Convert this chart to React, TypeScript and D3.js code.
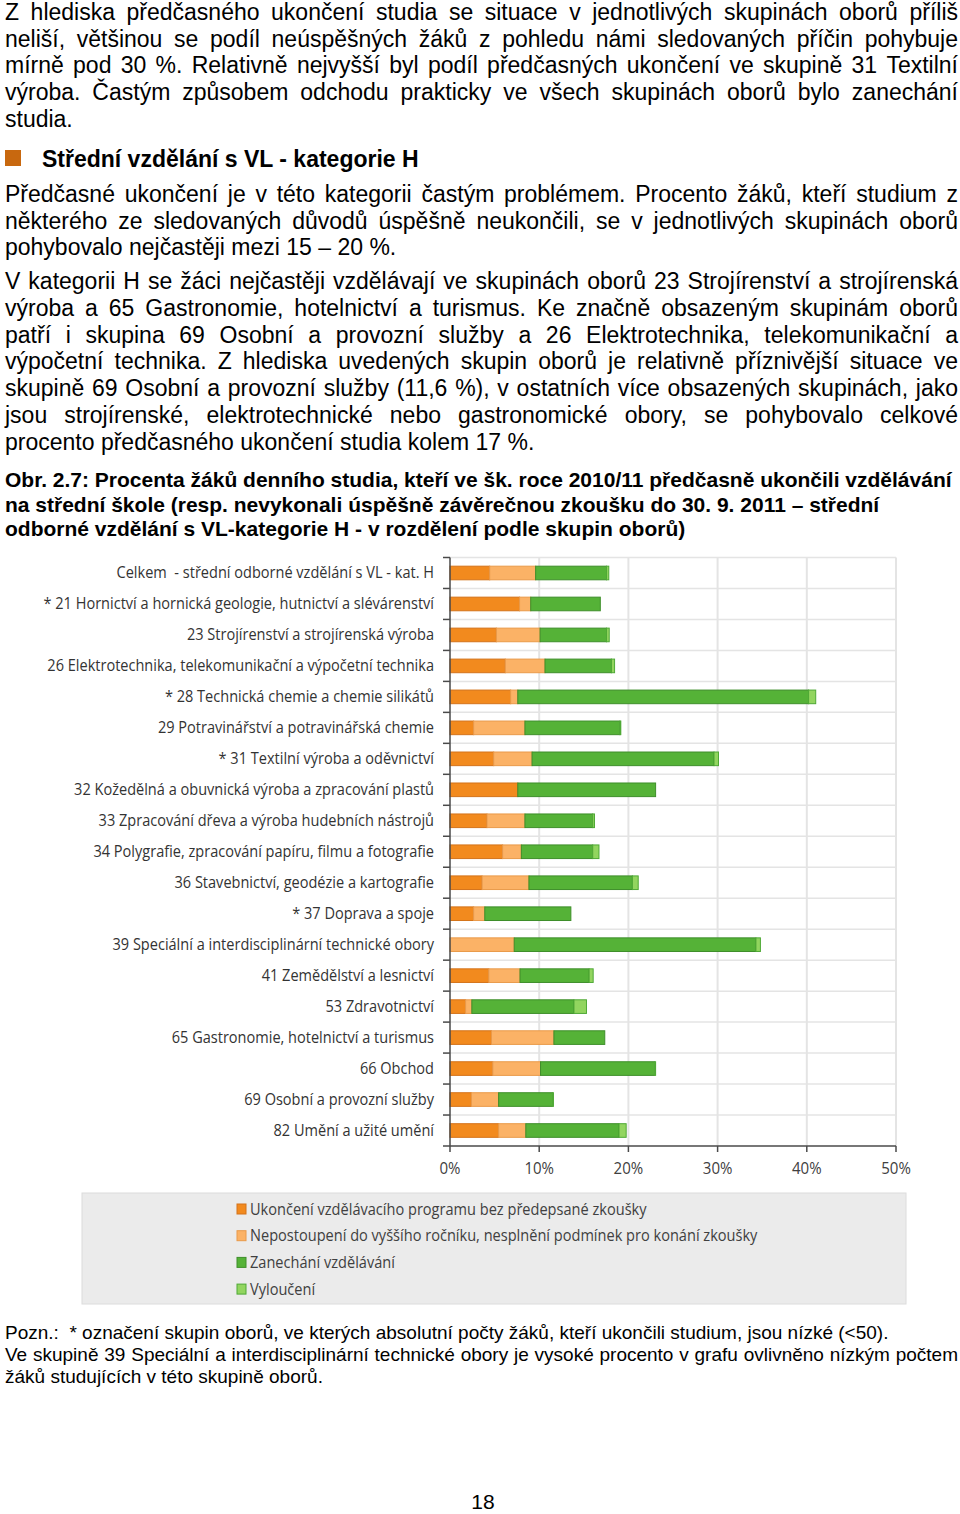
import React from 'react';
import * as d3 from 'd3';

// ---------------- DATA ----------------
const categories = [
  'Celkem  - střední odborné vzdělání s VL - kat. H',
  '* 21 Hornictví a hornická geologie, hutnictví a slévárenství',
  '23 Strojírenství a strojírenská výroba',
  '26 Elektrotechnika, telekomunikační a výpočetní technika',
  '* 28 Technická chemie a chemie silikátů',
  '29 Potravinářství a potravinářská chemie',
  '* 31 Textilní výroba a oděvnictví',
  '32 Kožedělná a obuvnická výroba a zpracování plastů',
  '33 Zpracování dřeva a výroba hudebních nástrojů',
  '34 Polygrafie, zpracování papíru, filmu a fotografie',
  '36 Stavebnictví, geodézie a kartografie',
  '* 37 Doprava a spoje',
  '39 Speciální a interdisciplinární technické obory',
  '41 Zemědělství a lesnictví',
  '53 Zdravotnictví',
  '65 Gastronomie, hotelnictví a turismus',
  '66 Obchod',
  '69 Osobní a provozní služby',
  '82 Umění a užité umění',
];
// values in percent
const ukonceni = [4.45, 7.8, 5.2, 6.2, 6.8, 2.65, 4.9, 7.6, 4.15, 5.9, 3.6, 2.65, 0, 4.35, 1.75, 4.65, 4.8, 2.4, 5.45];
const nepostoupeni = [5.15, 1.25, 4.9, 4.45, 0.8, 5.75, 4.3, 0, 4.25, 2.1, 5.25, 1.25, 7.2, 3.5, 0.7, 7.0, 5.35, 3.05, 3.05];
const zanechani = [7.95, 7.8, 7.45, 7.45, 32.6, 10.65, 20.4, 15.45, 7.6, 8.0, 11.6, 9.65, 27.1, 7.75, 11.45, 5.7, 12.8, 6.05, 10.45];
const vylouceni = [0.25, 0, 0.3, 0.35, 0.8, 0.1, 0.5, 0, 0.2, 0.7, 0.65, 0, 0.5, 0.45, 1.4, 0, 0.1, 0.1, 0.8];
const seriesNames = [
  'Ukončení vzdělávacího programu bez předepsané zkoušky',
  'Nepostoupení do vyššího ročníku, nesplnění podmínek pro konání zkoušky',
  'Zanechání vzdělávání',
  'Vyloučení',
];
const xTicks = [0, 10, 20, 30, 40, 50];

const para1 = [
  'Z hlediska předčasného ukončení studia se situace v jednotlivých skupinách oborů příliš',
  'neliší, většinou se podíl neúspěšných žáků z pohledu námi sledovaných příčin pohybuje',
  'mírně pod 30 %. Relativně nejvyšší byl podíl předčasných ukončení ve skupině 31 Textilní',
  'výroba. Častým způsobem odchodu prakticky ve všech skupinách oborů bylo zanechání',
  'studia.',
];
const heading = 'Střední vzdělání s VL - kategorie H';
const para2 = [
  'Předčasné ukončení je v této kategorii častým problémem. Procento žáků, kteří studium z',
  'některého ze sledovaných důvodů úspěšně neukončili, se v jednotlivých skupinách oborů',
  'pohybovalo nejčastěji mezi 15 – 20 %.',
];
const para3 = [
  'V kategorii H se žáci nejčastěji vzdělávají ve skupinách oborů 23 Strojírenství a strojírenská',
  'výroba a 65 Gastronomie, hotelnictví a turismus. Ke značně obsazeným skupinám oborů',
  'patří i skupina 69 Osobní a provozní služby a 26 Elektrotechnika, telekomunikační a',
  'výpočetní technika. Z hlediska uvedených skupin oborů je relativně příznivější situace ve',
  'skupině 69 Osobní a provozní služby (11,6 %), v ostatních více obsazených skupinách, jako',
  'jsou strojírenské, elektrotechnické nebo gastronomické obory, se pohybovalo celkové',
  'procento předčasného ukončení studia kolem 17 %.',
];
const caption = [
  'Obr. 2.7: Procenta žáků denního studia, kteří ve šk. roce 2010/11 předčasně ukončili vzdělávání',
  'na střední škole (resp. nevykonali úspěšně závěrečnou zkoušku do 30. 9. 2011 – střední',
  'odborné vzdělání s VL-kategorie H - v rozdělení podle skupin oborů)',
];
const note1 = ['Pozn.:  * označení skupin oborů, ve kterých absolutní počty žáků, kteří ukončili studium, jsou nízké (<50).'];
const note2 = [
  'Ve skupině 39 Speciální a interdisciplinární technické obory je vysoké procento v grafu ovlivněno nízkým počtem',
  'žáků studujících v této skupině oborů.',
];

// ---------------- STYLE ----------------
const BODY_FONT = '"Liberation Sans", Arial, sans-serif';
const CHART_FONT = '"Open Sans", "Noto Sans", sans-serif';
const fills = ['#F28A1E', '#FBB266', '#55B237', '#92D55F'];
const strokes = ['#D4731A', '#E99A4A', '#3E8E2A', '#4FA936'];

let _ctx: CanvasRenderingContext2D | null = null;
function measure(text: string, font: string): number {
  if (!_ctx) _ctx = document.createElement('canvas').getContext('2d');
  if (!_ctx) return text.length * 10;
  _ctx.font = font;
  return _ctx.measureText(text).width;
}

function Para({ lines, y0, lh, size, weight = 'normal', justify = true, x0 = 5, x1 = 958 }: any) {
  const font = `${weight} ${size}px "Liberation Sans"`;
  return (
    <g fontFamily={BODY_FONT} fontSize={size} fontWeight={weight} fill="#000">
      {lines.map((line: string, i: number) => {
        const y = y0 + i * lh;
        const last = i === lines.length - 1;
        if (!justify || last) {
          return <text key={i} x={x0} y={y} style={{ whiteSpace: 'pre' }}>{line}</text>;
        }
        const words = line.split(' ');
        const widths = words.map((w) => measure(w, font));
        const total = widths.reduce((a, b) => a + b, 0);
        const gap = (x1 - x0 - total) / (words.length - 1);
        let x = x0;
        return (
          <g key={i}>
            {words.map((w, j) => {
              const el = <text key={j} x={x} y={y}>{w}</text>;
              x += widths[j] + gap;
              return el;
            })}
          </g>
        );
      })}
    </g>
  );
}

export default function App() {
  const n = categories.length;
  const x = d3.scaleLinear().domain([0, 50]).range([450, 896]);
  const y = d3.scaleBand<number>().domain(d3.range(n)).range([557.5, 1146]).paddingInner(0.56).paddingOuter(0.28);
  const step = y.step();
  const [r0, r1] = y.range();

  const table = categories.map((c, i) => ({ i, a: ukonceni[i], b: nepostoupeni[i], c: zanechani[i], d: vylouceni[i] }));
  const stack = d3.stack<any>().keys(['a', 'b', 'c', 'd'])(table);

  const labelFontSize = 15.5;
  const sx = 391 / measure(categories[1], `${labelFontSize}px "Open Sans"`);
  const legendFontSize = 15.5;
  const sxL = 508 / measure(seriesNames[1], `${legendFontSize}px "Open Sans"`);

  return (
    <svg width={960} height={1514} style={{ position: 'absolute', left: 0, top: 0, display: 'block', background: '#fff' }}>
      <Para lines={para1} y0={20} lh={26.7} size={23} />
      <rect x={5} y={150} width={16} height={16} fill="#C8680F" />
      <text x={42} y={167} fontFamily={BODY_FONT} fontSize={23} fontWeight="bold">{heading}</text>
      <Para lines={para2} y0={202} lh={26.7} size={23} />
      <Para lines={para3} y0={289} lh={26.8} size={23} />
      <Para lines={caption} y0={487} lh={24.5} size={21} weight="bold" justify={false} />

      {/* grid */}
      <g>
        {d3.range(n).map((k) => (
          <line key={'h' + k} x1={x(0)} x2={x(50)} y1={r0 + k * step} y2={r0 + k * step} stroke="#E4E4E4" strokeWidth={1.5} />
        ))}
        {xTicks.slice(1).map((t) => (
          <line key={'v' + t} x1={x(t)} x2={x(t)} y1={r0} y2={r1} stroke="#E4E4E4" strokeWidth={2} />
        ))}
      </g>

      {/* bars */}
      <g>
        {stack.map((s, si) => (
          <g key={si}>
            {s.map((d, i) =>
              d[1] - d[0] > 0 ? (
                <rect
                  key={i}
                  x={x(d[0])}
                  y={y(i)!}
                  width={x(d[1]) - x(d[0])}
                  height={y.bandwidth()}
                  fill={fills[si]}
                  stroke={strokes[si]}
                  strokeWidth={1}
                />
              ) : null
            )}
          </g>
        ))}
      </g>

      {/* axes */}
      <g stroke="#4A4A4A" strokeWidth={1.5}>
        <line x1={x(0)} x2={x(0)} y1={r0} y2={r1} />
        {d3.range(n + 1).map((k) => (
          <line key={'yt' + k} x1={x(0) - 7} x2={x(0)} y1={r0 + k * step} y2={r0 + k * step} />
        ))}
        <line x1={x(0)} x2={x(50)} y1={r1} y2={r1} />
        {xTicks.map((t) => (
          <line key={'xt' + t} x1={x(t)} x2={x(t)} y1={r1} y2={r1 + 6} />
        ))}
      </g>

      {/* category labels */}
      <g fontFamily={CHART_FONT} fontSize={labelFontSize} fill="#333">
        {categories.map((c, i) => (
          <text
            key={i}
            transform={`translate(434, ${y(i)! + y.bandwidth() / 2 + 5.5}) scale(${sx}, 1)`}
            textAnchor="end"
            style={{ whiteSpace: 'pre' }}
          >
            {c}
          </text>
        ))}
      </g>

      {/* x tick labels */}
      <g fontFamily={CHART_FONT} fontSize={16} fill="#404040">
        {xTicks.map((t) => (
          <text key={t} transform={`translate(${x(t)}, 1174) scale(${sx}, 1)`} textAnchor="middle">
            {t}%
          </text>
        ))}
      </g>

      {/* legend */}
      <rect x={82} y={1193} width={824} height={111} fill="#EBEBEB" stroke="#DCDCDC" />
      <g fontFamily={CHART_FONT} fontSize={legendFontSize} fill="#404040">
        {seriesNames.map((s, i) => {
          const cy = 1209 + i * 26.7;
          return (
            <g key={i}>
              <rect x={237} y={cy - 5} width={9} height={10} fill={fills[i]} stroke={strokes[i]} />
              <text transform={`translate(250, ${cy + 5.5}) scale(${sxL}, 1)`}>{s}</text>
            </g>
          );
        })}
      </g>

      <Para lines={note1} y0={1339} lh={22} size={19} justify={false} />
      <Para lines={note2} y0={1361} lh={22} size={19} />
      <text x={483} y={1509} textAnchor="middle" fontFamily={BODY_FONT} fontSize={21}>18</text>
    </svg>
  );
}
